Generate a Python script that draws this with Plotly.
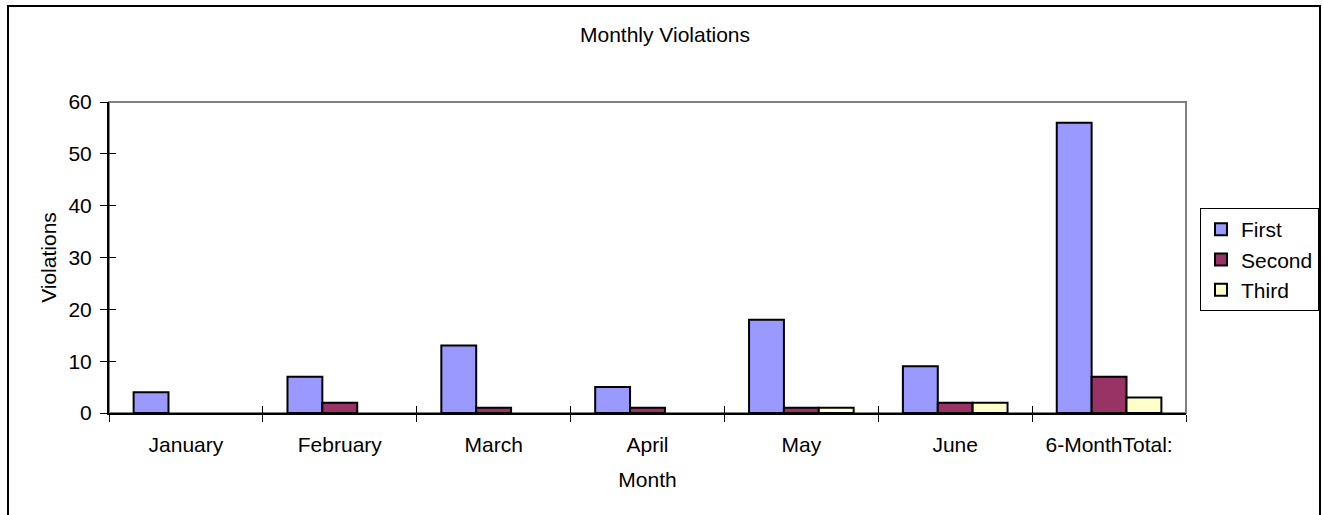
import plotly.graph_objects as go

# --- data ---
months = ["January", "February", "March", "April", "May", "June", "6-MonthTotal:"]
first = [4, 7, 13, 5, 18, 9, 56]
second = [0, 2, 1, 1, 1, 2, 7]
third = [0, 0, 0, 0, 1, 2, 3]

series = [("First", first, "#9999FF"),
          ("Second", second, "#993366"),
          ("Third", third, "#FFFFCC")]

W, H = 1323, 515
L, R, T, B = 109, 1186, 102, 413   # plot area in pixels
FONT = dict(family="Liberation Sans, Arial, sans-serif", size=21, color="black")


def px_x(p):
    return (p - L) / (R - L)


def px_y(p):
    return (B - p) / (B - T)


fig = go.Figure()
for name, vals, col in series:
    fig.add_trace(go.Bar(
        x=months, y=[v if v else None for v in vals], name=name,
        marker=dict(color=col, line=dict(color="black", width=2)),
    ))

# invisible trace so the overlay axes (inner half of crossing ticks) render
fig.add_trace(go.Scatter(x=[0], y=[0], xaxis="x2", yaxis="y2",
                         mode="markers", marker=dict(opacity=0),
                         showlegend=False, hoverinfo="skip"))

fig.update_layout(
    width=W, height=H,
    margin=dict(l=L, r=W - R, t=T, b=H - B, autoexpand=False),
    paper_bgcolor="white", plot_bgcolor="white",
    font=FONT,
    barmode="group", bargap=0.32, bargroupgap=0,
    title=dict(text="Monthly Violations", x=665 / W, xref="container",
               y=1 - 35 / H, yref="container", xanchor="center", yanchor="middle",
               font=dict(size=21)),
    xaxis=dict(
        type="category", categoryarray=months, automargin=False,
        showline=True, linecolor="black", linewidth=2,
        ticks="outside", ticklen=7, tickwidth=1, tickcolor="black",
        tickson="boundaries", ticklabelstandoff=12,
        showgrid=False, zeroline=False,
        title=dict(text="Month", standoff=17, font=dict(size=21)),
    ),
    yaxis=dict(
        range=[0, 60], dtick=10, automargin=False,
        showline=True, linecolor="black", linewidth=2,
        ticks="outside", ticklen=7, tickwidth=1, tickcolor="black",
        ticklabelstandoff=4,
        showgrid=False, zeroline=False,
        title=dict(text="Violations", standoff=6, font=dict(size=21)),
    ),
    xaxis2=dict(overlaying="x", range=[-0.5, 6.5],
                tickvals=[i - 0.5 for i in range(len(months) + 1)],
                ticks="inside", ticklen=7, tickwidth=1, tickcolor="black",
                showticklabels=False, showgrid=False, zeroline=False,
                showline=False, side="bottom"),
    yaxis2=dict(overlaying="y", range=[0, 60], dtick=10,
                ticks="inside", ticklen=7, tickwidth=1, tickcolor="black",
                showticklabels=False, showgrid=False, zeroline=False,
                showline=False, side="left"),
    legend=dict(x=px_x(1200), y=px_y(208), xanchor="left", yanchor="top",
                bordercolor="black", borderwidth=1, bgcolor="white",
                font=dict(size=21), itemwidth=30, tracegroupgap=3),
    shapes=[
        # gray plot frame (top/right)
        dict(type="rect", xref="paper", yref="paper", x0=0, x1=1, y0=0, y1=1,
             line=dict(color="#808080", width=2), layer="below"),
        # outer chart border
        dict(type="rect", xref="paper", yref="paper",
             x0=px_x(8), x1=px_x(1320), y0=px_y(530), y1=px_y(6),
             line=dict(color="black", width=2)),
    ],
)

# drop the browser's default body margin so pixel positions line up
fig.write_html("out.html", config={"displayModeBar": False},
               post_script="document.body.style.margin='0';")
